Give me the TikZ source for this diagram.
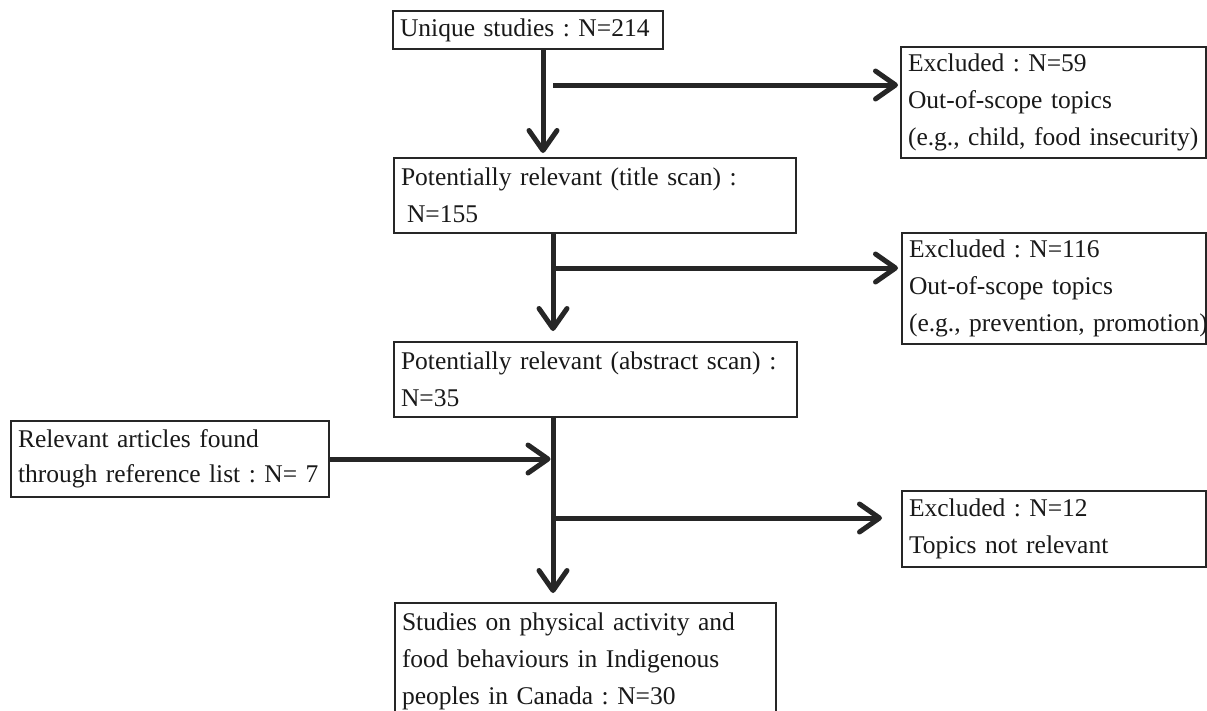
\documentclass[tikz,border=0pt]{standalone}
\usepackage{fontspec}
\setmainfont{Liberation Serif}
\usetikzlibrary{arrows.meta}
\begin{document}
\begin{tikzpicture}[x=1pt,y=-1pt,
  box/.style={draw=black!85, line width=2pt, anchor=north west, inner xsep=7pt, inner ysep=0pt,
    align=left, text=black!90, font=\fontsize{25.5}{37}\selectfont\frenchspacing},
  arr/.style={line width=5pt, draw=black!85, -{Straight Barb[length=20pt,width=28pt,round]}},
]
\clip (0,0) rectangle (1207,710);
\fill[white] (0,0) rectangle (1207,710);

\node[box, minimum width=270pt, minimum height=38pt, text width=256pt] (A) at (392,10) {\mbox{Unique studies : N=214}};
\node[box, minimum width=305pt, minimum height=111pt, text width=291pt] (E1) at (900,46) {\mbox{Excluded : N=59}\\\mbox{Out-of-scope topics}\\\mbox{(e.g., child, food insecurity)}};
\node[box, minimum width=402pt, minimum height=75pt, text width=388pt] (B) at (393,157) {\mbox{Potentially relevant (title scan) :}\\\hspace*{6pt}N=155};
\node[box, minimum width=304pt, minimum height=111pt, text width=290pt] (E2) at (901,232) {\mbox{Excluded : N=116}\\\mbox{Out-of-scope topics}\\\mbox{(e.g., prevention, promotion)}};
\node[box, minimum width=403pt, minimum height=75pt, text width=389pt] (C) at (393,341) {\mbox{Potentially relevant (abstract scan) :}\\N=35};
\node[box, minimum width=318pt, minimum height=76pt, font=\fontsize{25.5}{35}\selectfont\frenchspacing, text width=304pt] (D) at (10,420) {\mbox{Relevant articles found}\\\mbox{through reference list : N= 7}};
\node[box, minimum width=304pt, minimum height=76pt, text width=290pt] (E3) at (901,490) {\mbox{Excluded : N=12}\\\mbox{Topics not relevant}};
\node[box, minimum width=381pt, minimum height=116pt, text width=367pt] (F) at (394,602) {\mbox{Studies on physical activity and}\\\mbox{food behaviours in Indigenous}\\\mbox{peoples in Canada : N=30}};

\coordinate (t1) at (543,0);
\coordinate (t2) at (553,0);
\coordinate (b1) at (553,85);
\coordinate (b2) at (553,268);
\coordinate (j) at (553,459);
\coordinate (b3) at (553,518);

\draw[arr, shorten >=4pt] (A.south -| t1) -- (B.north -| t1);
\draw[arr, shorten >=2pt] (b1) -- (b1 -| E1.west);
\draw[arr, shorten >=10pt] (B.south -| t2) -- (C.north -| t2);
\draw[arr, shorten >=3pt] (b2) -- (b2 -| E2.west);
\draw[arr, shorten >=9pt] (C.south -| t2) -- (F.north -| t2);
\draw[arr, shorten >=2.5pt] (j -| D.east) -- (j);
\draw[arr, shorten >=19pt] (b3) -- (b3 -| E3.west);
\end{tikzpicture}
\end{document}
